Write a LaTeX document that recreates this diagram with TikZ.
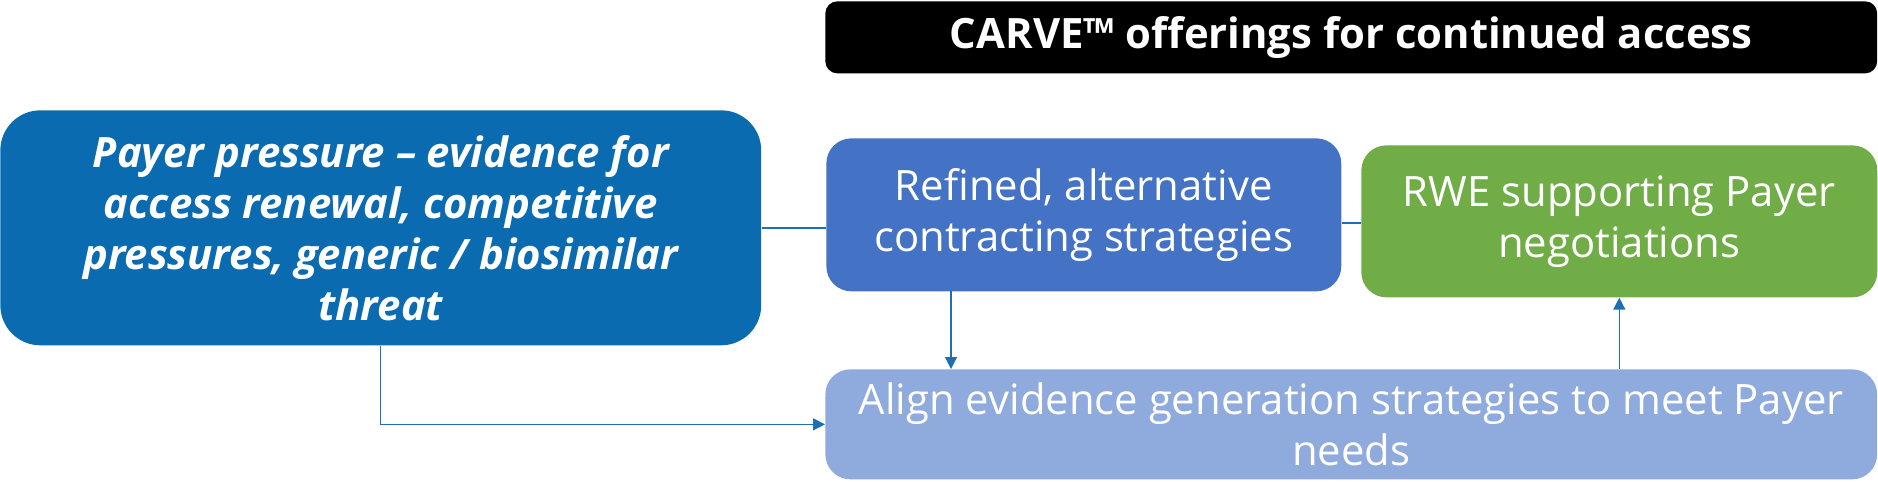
\documentclass[tikz,border=0pt]{standalone}
\usepackage{fontspec}
\setmainfont{Open Sans}
\usetikzlibrary{arrows.meta,calc}
\definecolor{payerblue}{RGB}{10,107,177}
\definecolor{refinedblue}{RGB}{68,114,196}
\definecolor{rwegreen}{RGB}{112,173,71}
\definecolor{alignblue}{RGB}{143,170,220}
\definecolor{linkblue}{RGB}{30,110,180}
\tikzset{
	card/.style={anchor=north west, text=white, align=center, inner sep=0pt,
		font=\fontsize{23.8}{29}\selectfont},
	link/.style={draw=linkblue, line width=0.8pt},
	arr/.style={link, -{Triangle[length=0.24cm,width=0.24cm]}},
}

\begin{document}
\begin{tikzpicture}[x=0.02cm,y=-0.02cm]
			%%%%% START %%%%%
			\useasboundingbox (0,0) rectangle (1878,500);
			
			\node[card, fill=black, rounded corners=0.24cm, minimum width=21.04cm, minimum height=1.44cm,
				font=\bfseries\fontsize{23.8}{28}\selectfont] (title) at (825,1) {CARVE™ offerings for continued access};
			
			\node[card, fill=payerblue, rounded corners=0.8cm, minimum width=15.22cm, minimum height=4.7cm,
				font=\bfseries\itshape\fontsize{23.8}{29}\selectfont] (payer) at (0,110)
				{Payer pressure – evidence for\\access renewal, competitive\\pressures, generic / biosimilar\\threat};
			
			\node[card, fill=refinedblue, rounded corners=0.5cm, minimum width=10.3cm, minimum height=3.06cm] (refined) at (826,138)
				{Refined, alternative\\contracting strategies};
			
			\node[card, fill=rwegreen, rounded corners=0.5cm, minimum width=10.32cm, minimum height=3.04cm] (rwe) at (1361,145)
				{RWE supporting Payer\\negotiations};
			
			\node[card, fill=alignblue, rounded corners=0.5cm, minimum width=21.04cm, minimum height=2.2cm] (align) at (825,369)
				{Align evidence generation strategies to meet Payer\\needs};
			
			% connectors
			\draw[link] (payer.east |- 0,228) -- (refined.west |- 0,228);
			\draw[link] (refined.east |- 0,223) -- (rwe.west |- 0,223);
			\draw[arr] (payer.south) |- (align.west);
			\coordinate (drop) at (951,291);
			\draw[arr] (drop) -- (drop |- align.north);
			\draw[arr] (rwe.south |- align.north) -- (rwe.south);
			
			%%%%% END %%%%%
\end{tikzpicture}
\end{document}
